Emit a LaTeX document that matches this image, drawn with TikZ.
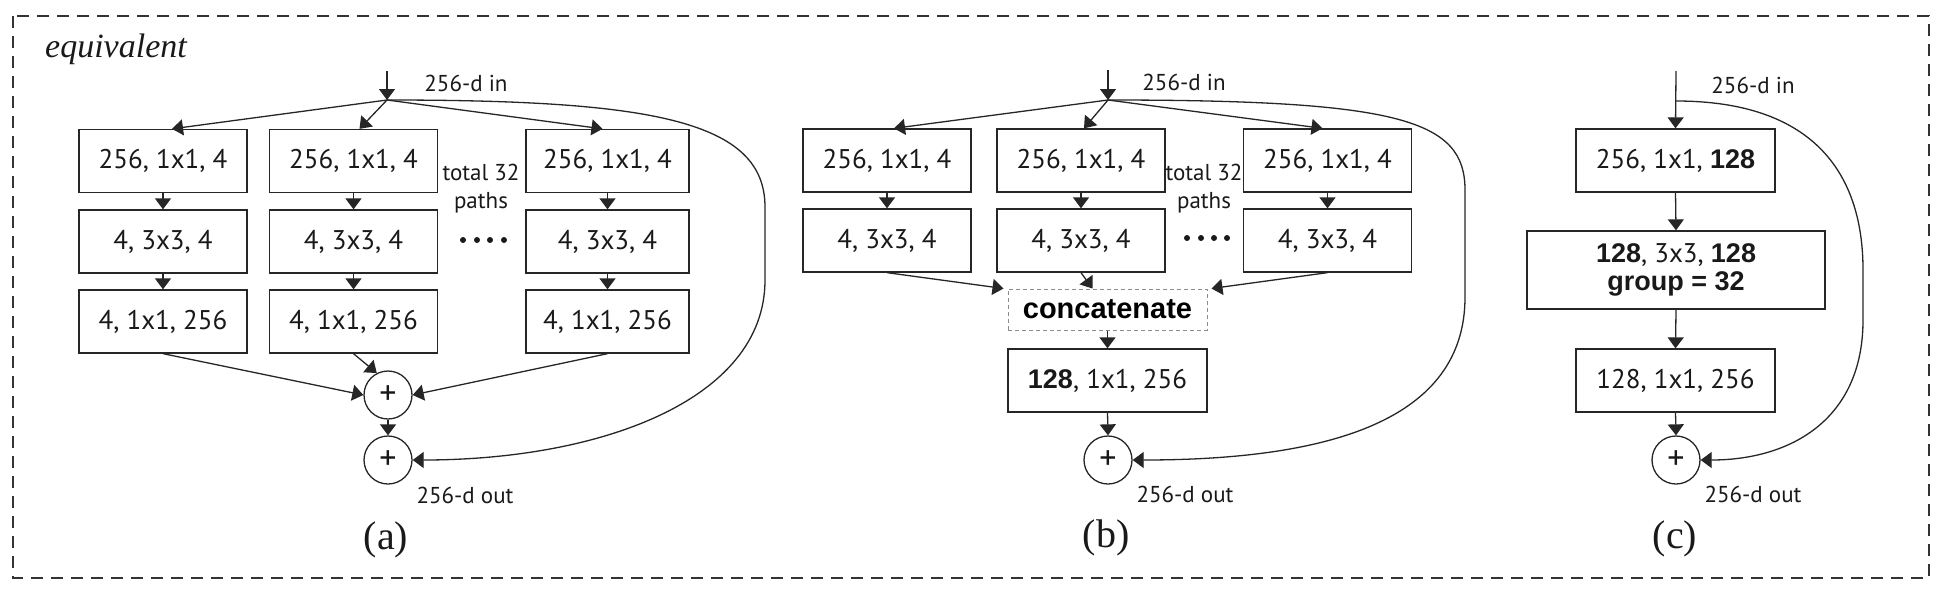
\documentclass[tikz,border=0pt]{standalone}
\usepackage{fontspec}
\setmainfont{PT Sans}
\newfontfamily\arialf{Liberation Sans}
\newfontfamily\serifx{Liberation Serif}
\usetikzlibrary{arrows.meta,calc}
\begin{document}
\begin{tikzpicture}[x=1pt,y=-1pt,
  ln/.style={draw=black!85, line width=1.3pt},
  arr/.style={ln, -{Triangle[length=11pt,width=16pt]}},
  box/.style={draw=black!85, line width=1.3pt, inner sep=0pt, minimum width=#1, minimum height=63pt,
    font=\fontsize{27}{31}\selectfont, text=black!90},
  box/.default=168pt,
  plus/.style={circle, draw=black!85, line width=1.3pt, inner sep=0pt, minimum size=48pt,
    font=\fontsize{34}{36}\selectfont, text=black!90},
  lbl/.style={inner sep=0pt, font=\fontsize{23}{28}\selectfont, text=black!90, align=center},
  captxt/.style={inner sep=0pt, font=\serifx\fontsize{40}{44}\selectfont, text=black!90},
  bb/.style={font=\arialf\bfseries\fontsize{29}{33}\selectfont}
]
\useasboundingbox (0,0) rectangle (1942,590);
\draw[black!80, line width=1.3pt, dash pattern=on 12pt off 8pt] (13,16) rectangle (1929,578);
\node[inner sep=0pt, anchor=base west, font=\serifx\itshape\fontsize{34}{38}\selectfont, text=black!90] (eq) at (45,57) {equivalent};

% ---------------- (a)
\node[box] (a11) at (163,161) {256, 1x1, 4};
\node[box] (a12) at (163,241.5) {4, 3x3, 4};
\node[box] (a13) at (163,321.5) {4, 1x1, 256};
\node[box] (a21) at (353.5,161) {256, 1x1, 4};
\node[box] (a22) at (353.5,241.5) {4, 3x3, 4};
\node[box] (a23) at (353.5,321.5) {4, 1x1, 256};
\node[box=163pt] (a31) at (607.5,161) {256, 1x1, 4};
\node[box=163pt] (a32) at (607.5,241.5) {4, 3x3, 4};
\node[box=163pt] (a33) at (607.5,321.5) {4, 1x1, 256};
\node[plus] (pa1) at (388,395) {+};
\node[plus] (pa2) at (388,460) {+};
\node[lbl] (ina) at (466,83) {256-d in};
\node[lbl] (outa) at (465,495) {256-d out};
\node[lbl] (tpa) at (481,189) {total 32\\paths};
\node[captxt] (capa) at (386,540) {(a)};
\foreach \x in {463,477,490,504} \fill[black!90] (\x,240) circle (3pt);
\coordinate (ia) at (387,71);
\coordinate (sa) at (387,100);
\draw[arr] (ia) -- (sa);
\draw[arr] (sa) -- ([xshift=9pt]a11.north);
\draw[arr] (sa) -- ([xshift=6pt]a21.north);
\draw[arr] (sa) -- ([xshift=-5pt]a31.north);
\foreach \c in {a1,a2,a3}{
  \draw[arr] (\c1.south) -- (\c2.north);
  \draw[arr] (\c2.south) -- (\c3.north);
}
\draw[arr] (a13.south) -- (pa1.west);
\draw[arr] (a23.south) -- (pa1.117);
\draw[arr] (a33.south) -- (pa1.east);
\draw[arr] (pa1.south) -- (pa2.north);
\draw[arr] (sa) .. controls (650,100) and (765,120) .. (765,207) -- (765,280) .. controls (765,400) and (600,460) .. (pa2.east);

% ---------------- (b)
\node[box] (b11) at (887,160.5) {256, 1x1, 4};
\node[box] (b12) at (887,240.5) {4, 3x3, 4};
\node[box] (b21) at (1081,160.5) {256, 1x1, 4};
\node[box] (b22) at (1081,240.5) {4, 3x3, 4};
\node[box] (b31) at (1327.5,160.5) {256, 1x1, 4};
\node[box] (b32) at (1327.5,240.5) {4, 3x3, 4};
\node[draw=black!45, line width=1pt, dash pattern=on 4pt off 3pt, inner sep=0pt, minimum width=199pt, minimum height=41pt, bb, text=black] (cb) at (1107.5,309.5) {concatenate};
\node[box=199pt] (b4) at (1107.5,380.5) {{\arialf\bfseries 128}, 1x1, 256};
\node[plus] (pb) at (1108,460) {+};
\node[lbl] (inb) at (1184,82) {256-d in};
\node[lbl] (outb) at (1185,494) {256-d out};
\node[lbl] (tpb) at (1204,188.5) {total 32\\paths};
\node[captxt] (capb) at (1106,538) {(b)};
\foreach \x in {1187,1201,1214,1227} \fill[black!90] (\x,238) circle (3pt);
\coordinate (ib) at (1108,70);
\coordinate (sb) at (1108,100);
\draw[arr] (ib) -- (sb);
\draw[arr] (sb) -- ([xshift=7pt]b11.north);
\draw[arr] (sb) -- ([xshift=3pt]b21.north);
\draw[arr] (sb) -- ([xshift=-5pt]b31.north);
\foreach \c in {b1,b2,b3}{
  \draw[arr] (\c1.south) -- (\c2.north);
}
\draw[arr] (b12.south) -- ([xshift=-4pt]cb.north west);
\draw[arr] (b22.south) -- ([xshift=-15pt]cb.north);
\draw[arr] (b32.south) -- ([xshift=4pt]cb.north east);
\draw[arr] (cb.south) -- (b4.north);
\draw[arr] (b4.south) -- (pb.north);
\draw[arr] (sb) .. controls (1400,100) and (1465,120) .. (1465,190) -- (1465,297) .. controls (1465,420) and (1330,460) .. (pb.east);

% ---------------- (c)
\node[box=199pt] (c1) at (1675.5,160.5) {256, 1x1, {\arialf\bfseries 128}};
\node[box=298pt, minimum height=78pt, align=center] (c2) at (1676,270) {{\arialf\bfseries 128}, 3x3, {\arialf\bfseries 128}\\[-3pt]{\arialf\bfseries group = 32}};
\node[box=199pt] (c3) at (1675.5,380.5) {128, 1x1, 256};
\node[plus] (pc) at (1676,460) {+};
\node[lbl] (inc) at (1753,85) {256-d in};
\node[lbl] (outc) at (1753,494) {256-d out};
\node[captxt] (capc) at (1675,539) {(c)};
\coordinate (ic) at (1676,71);
\coordinate (sc) at (1676,101);
\draw[arr] (ic) -- (c1.north);
\draw[arr] (c1.south) -- (c2.north);
\draw[arr] (c2.south) -- (c3.north);
\draw[arr] (c3.south) -- (pc.north);
\draw[arr] (sc) .. controls (1810,101) and (1863,170) .. (1863,270) -- (1863,320) .. controls (1863,420) and (1790,460) .. (pc.east);
\end{tikzpicture}
\end{document}
